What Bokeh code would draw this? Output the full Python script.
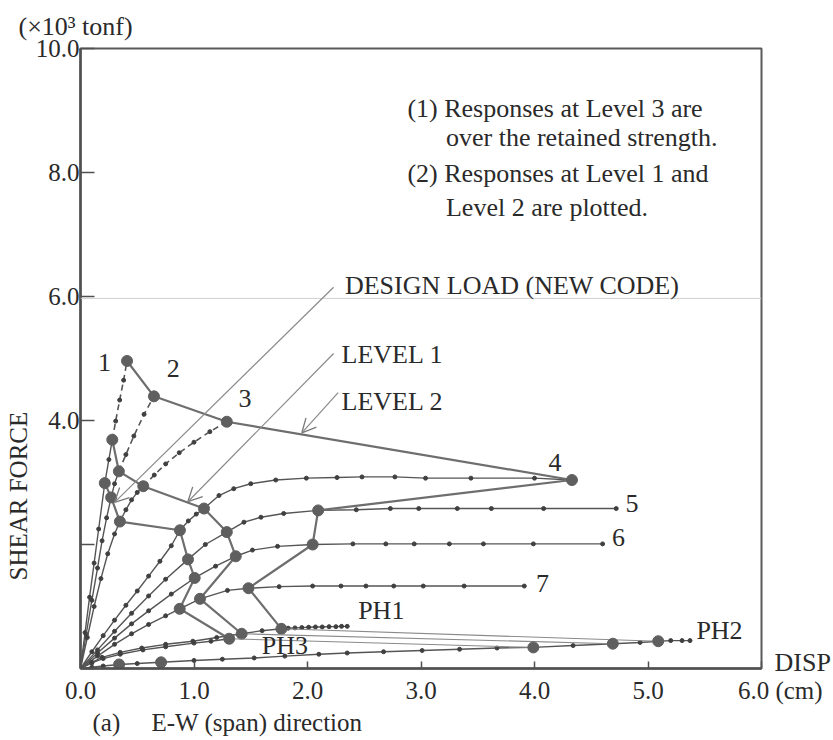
from bokeh.plotting import figure
from bokeh.models import Range1d, FixedTicker, Label, Arrow, OpenHead, Span, Title, LinearAxis
from bokeh.embed import file_html
from bokeh.resources import INLINE

# ---------------- data ----------------
c1_x = [0, 0.04, 0.08, 0.12, 0.16, 0.214, 0.25, 0.28]
c1_y = [0, 0.58, 1.15, 1.70, 2.25, 2.99, 3.37, 3.69]
c1d_x = [0.28, 0.31, 0.345, 0.38, 0.41]
c1d_y = [3.69, 3.99, 4.33, 4.65, 4.96]

c2_x = [0, 0.05, 0.10, 0.15, 0.19, 0.23, 0.27, 0.30, 0.338]
c2_y = [0, 0.55, 1.10, 1.62, 2.06, 2.43, 2.76, 2.98, 3.18]
c2d_x = [0.338, 0.40, 0.47, 0.56, 0.647]
c2d_y = [3.18, 3.45, 3.75, 4.10, 4.39]

c3_x = [0, 0.06, 0.12, 0.18, 0.24, 0.30, 0.347, 0.40, 0.45, 0.50, 0.553]
c3_y = [0, 0.50, 1.00, 1.45, 1.85, 2.17, 2.37, 2.56, 2.72, 2.84, 2.94]
c3d_x = [0.553, 0.65, 0.75, 0.87, 1.00, 1.14, 1.289]
c3d_y = [2.94, 3.12, 3.30, 3.48, 3.65, 3.82, 3.98]

c4_x = [0, 0.1, 0.2, 0.3, 0.4, 0.5, 0.6, 0.7, 0.8, 0.876, 0.95, 1.02, 1.088,
        1.22, 1.35, 1.50, 1.72, 1.99, 2.26, 2.48, 2.77, 3.04, 3.44, 4.0, 4.33]
c4_y = [0, 0.27, 0.53, 0.78, 1.02, 1.25, 1.49, 1.73, 1.98, 2.23, 2.38, 2.49, 2.58,
        2.79, 2.90, 2.98, 3.04, 3.07, 3.08, 3.09, 3.09, 3.07, 3.07, 3.07, 3.04]

c5_x = [0, 0.15, 0.30, 0.45, 0.60, 0.75, 0.947, 1.10, 1.289, 1.44, 1.59, 1.79,
        2.094, 2.43, 2.73, 2.98, 3.32, 3.62, 4.08, 4.72]
c5_y = [0, 0.30, 0.60, 0.89, 1.17, 1.44, 1.76, 2.00, 2.20, 2.36, 2.44, 2.50,
        2.55, 2.56, 2.58, 2.58, 2.58, 2.58, 2.58, 2.58]

c6_x = [0, 0.15, 0.30, 0.45, 0.60, 0.80, 1.006, 1.19, 1.368, 1.515, 1.736,
        2.045, 2.40, 2.69, 2.94, 3.25, 3.55, 3.99, 4.60]
c6_y = [0, 0.25, 0.49, 0.72, 0.93, 1.20, 1.46, 1.65, 1.81, 1.91, 1.97,
        2.00, 2.01, 2.01, 2.01, 2.01, 2.01, 2.01, 2.01]

c7_x = [0, 0.15, 0.30, 0.45, 0.60, 0.75, 0.874, 1.053, 1.295, 1.48, 1.75,
        2.045, 2.295, 2.515, 2.76, 3.02, 3.38, 3.91]
c7_y = [0, 0.20, 0.39, 0.56, 0.71, 0.85, 0.963, 1.124, 1.26, 1.295, 1.32,
        1.33, 1.33, 1.33, 1.33, 1.33, 1.33, 1.33]

ph1_x = [0, 0.10, 0.19, 0.35, 0.54, 0.75, 0.99, 1.20, 1.42, 1.60, 1.77, 1.83,
         1.89, 1.95, 2.01, 2.07, 2.13, 2.19, 2.25, 2.30, 2.35]
ph1_y = [0, 0.10, 0.18, 0.26, 0.33, 0.39, 0.44, 0.50, 0.56, 0.61, 0.64, 0.65,
         0.655, 0.66, 0.665, 0.67, 0.67, 0.675, 0.675, 0.68, 0.68]

ph3_x = [0, 0.10, 0.20, 0.35, 0.55, 0.75, 1.00, 1.15, 1.31]
ph3_y = [0, 0.09, 0.16, 0.23, 0.30, 0.35, 0.41, 0.44, 0.48]

ph2_x = [0, 0.10, 0.20, 0.34, 0.50, 0.71, 1.00, 1.25, 1.53, 1.80, 2.10, 2.35,
         2.67, 3.01, 3.34, 3.67, 3.99, 4.34, 4.69, 4.93, 5.09, 5.20, 5.30, 5.37]
ph2_y = [0, 0.02, 0.04, 0.065, 0.08, 0.10, 0.13, 0.15, 0.17, 0.20, 0.23, 0.25,
         0.27, 0.29, 0.31, 0.33, 0.34, 0.37, 0.40, 0.42, 0.44, 0.45, 0.45, 0.45]
ph2_big_x = [0.34, 0.71]
ph2_big_y = [0.065, 0.10]

lv2_x = [0.41, 0.647, 1.289, 4.33, 2.094, 2.045, 1.48, 1.77, 5.09]
lv2_y = [4.96, 4.39, 3.98, 3.04, 2.55, 2.00, 1.295, 0.64, 0.44]
lv1_x = [0.28, 0.338, 0.553, 1.088, 1.289, 1.368, 1.053, 1.42, 4.69]
lv1_y = [3.69, 3.18, 2.94, 2.58, 2.20, 1.81, 1.124, 0.56, 0.40]
dsg_x = [0.214, 0.27, 0.347, 0.876, 0.947, 1.006, 0.874, 1.31, 3.99]
dsg_y = [2.99, 2.76, 2.37, 2.23, 1.76, 1.46, 0.963, 0.48, 0.34]

NB = "\u00a0"
x_ticks = [0, 1, 2, 3, 4, 5, 6]
x_tick_labels = ["0.0", "1.0", "2.0", "3.0", "4.0", "5.0", NB * 6 + "6.0" + NB + "(cm)"]
y_ticks = [0, 2, 4, 6, 8, 10]
y_tick_labels = ["", "", "4.0", "6.0", "8.0", "10.0"]
disp_tick = [0.1]
disp_label = ["DISP"]

# ---------------- figure ----------------
FONT = "Liberation Serif"
TXT = "#2a2a2a"
LINE = "#555555"
POLY = "#6e6e6e"

p = figure(width=833, height=740, x_range=Range1d(0, 6), y_range=Range1d(0, 10),
           output_backend="svg", toolbar_location=None,
           min_border_left=80, min_border_right=70, min_border_top=48, min_border_bottom=72)
p.xgrid.visible = False
p.ygrid.visible = False
p.outline_line_color = "#5a5a5a"
p.outline_line_width = 2

for ax, ticks, labels in ((p.xaxis[0], x_ticks, x_tick_labels), (p.yaxis[0], y_ticks, y_tick_labels)):
    ax.ticker = FixedTicker(ticks=ticks)
    ax.major_label_overrides = {t: l for t, l in zip(ticks, labels)}
    ax.minor_tick_line_color = None
    ax.major_tick_out = 0
    ax.axis_line_color = "#505050"
    ax.axis_line_width = 2.5
    ax.major_tick_line_color = "#505050"
    ax.major_tick_line_width = 1.5
    ax.major_label_text_font = FONT
    ax.major_label_text_font_size = "25px"
    ax.major_label_text_color = TXT
p.xaxis.major_tick_in = 7
p.yaxis.major_tick_in = 14
p.xaxis.major_label_standoff = 8
p.yaxis.major_label_standoff = 1

# "DISP" written as the single label of a bare right-hand axis
disp_axis = LinearAxis(ticker=FixedTicker(ticks=disp_tick),
                       major_label_overrides={t: l for t, l in zip(disp_tick, disp_label)},
                       axis_line_color=None, major_tick_line_color=None,
                       minor_tick_line_color=None, major_label_standoff=7,
                       major_label_text_font=FONT, major_label_text_font_size="26px",
                       major_label_text_color=TXT)
p.add_layout(disp_axis, "right")

p.add_layout(Span(location=5.97, dimension="width", line_color="#d0d0d0", line_width=1))

solid = [(c1_x, c1_y), (c2_x, c2_y), (c3_x, c3_y), (c4_x, c4_y), (c5_x, c5_y),
         (c6_x, c6_y), (c7_x, c7_y), (ph1_x, ph1_y), (ph3_x, ph3_y), (ph2_x, ph2_y)]
dashed = [(c1d_x, c1d_y), (c2d_x, c2d_y), (c3d_x, c3d_y)]
for xs, ys in solid:
    p.line(xs, ys, line_color=LINE, line_width=1.4)
    p.scatter(xs[1:], ys[1:], size=4, color="#404040")
for xs, ys in dashed:
    p.line(xs, ys, line_color=LINE, line_width=1.6, line_dash="6 4")
    p.scatter(xs[1:-1], ys[1:-1], size=4, color="#404040")

for xs, ys in ((lv2_x, lv2_y), (lv1_x, lv1_y), (dsg_x, dsg_y)):
    p.line(xs[:-1], ys[:-1], line_color=POLY, line_width=2.2)
    p.line(xs[-2:], ys[-2:], line_color="#8a8a8a", line_width=1.1)
    p.scatter(xs, ys, size=11, color="#5f5f5f")
p.scatter(ph2_big_x, ph2_big_y, size=11, color="#5f5f5f")

for xs, ys, xe, ye in ((2.23, 6.15, 0.30, 2.68), (2.23, 5.08, 0.946, 2.69), (2.27, 4.45, 1.95, 3.80)):
    p.add_layout(Arrow(end=OpenHead(size=14, line_color="#777777", line_width=1.3),
                       x_start=xs, y_start=ys, x_end=xe, y_end=ye,
                       line_color="#8a8a8a", line_width=1.2))

def lab(x, y, t, size="26px", align="left", base="middle"):
    p.add_layout(Label(x=x, y=y, text=t, text_font=FONT, text_font_size=size,
                       text_color=TXT, text_align=align, text_baseline=base))

lab(0.211, 4.94, "1", align="center")
lab(0.818, 4.84, "2", align="center")
lab(1.45, 4.35, "3", align="center")
lab(4.18, 3.32, "4", align="center")
lab(4.86, 2.66, "5", align="center")
lab(4.74, 2.11, "6", align="center")
lab(4.07, 1.37, "7", align="center")
lab(2.65, 0.935, "PH1", align="center")
lab(5.63, 0.61, "PH2", align="center")
lab(1.80, 0.37, "PH3", align="center")

lab(2.33, 6.18, "DESIGN LOAD (NEW CODE)", size="26px")
lab(2.30, 5.06, "LEVEL 1")
lab(2.30, 4.31, "LEVEL 2")

lab(2.88, 9.03, "(1) Responses at Level 3 are", base="alphabetic")
lab(3.22, 8.56, "over the retained strength.", base="alphabetic")
lab(2.88, 7.98, "(2) Responses at Level 1 and", base="alphabetic")
lab(3.22, 7.44, "Level 2 are plotted.", base="alphabetic")

# texts outside the frame as titles
p.add_layout(Title(text="(\u00d710\u00b3 tonf)", align="left", offset=-62, standoff=16,
                   text_line_height=1.0, text_font=FONT, text_font_size="26px",
                   text_font_style="normal", text_color=TXT), "above")
p.add_layout(Title(text="SHEAR FORCE", align="left", offset=88, standoff=1,
                   text_line_height=0.9, text_font=FONT, text_font_size="25px",
                   text_font_style="normal", text_color=TXT), "left")
p.add_layout(Title(text="(a)" + NB * 5 + "E-W (span) direction", align="left", offset=12,
                   standoff=0, text_line_height=1.0, text_font=FONT, text_font_size="25px",
                   text_font_style="normal", text_color=TXT), "below")

open("out.html", "w").write(file_html(p, INLINE))
